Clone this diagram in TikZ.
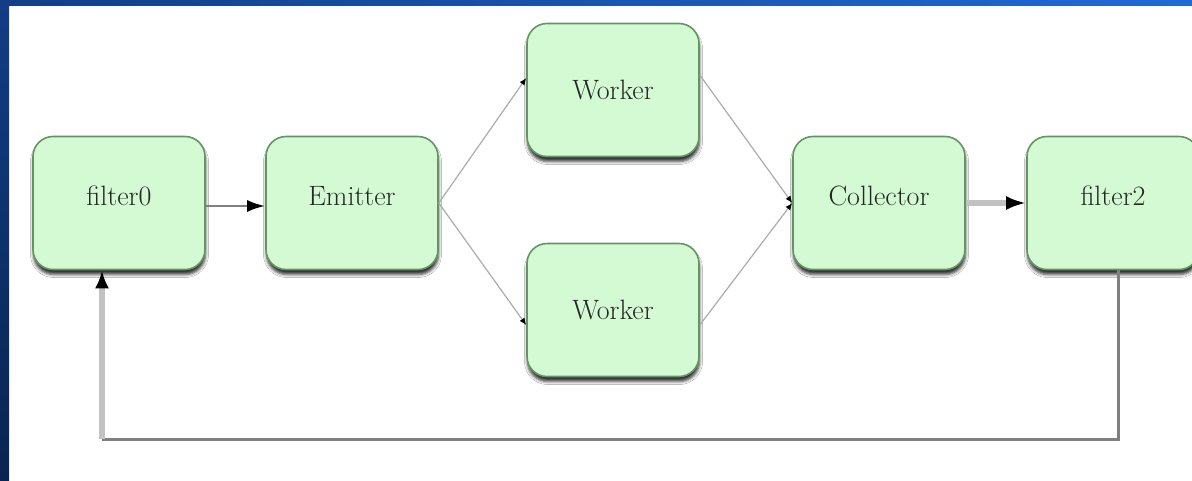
\documentclass[tikz,border=0pt]{standalone}
\usetikzlibrary{arrows.meta,shadows.blur,calc}
\definecolor{nodefill}{RGB}{212,250,212}
\definecolor{nodeborder}{RGB}{100,148,100}
\definecolor{topbarL}{RGB}{18,62,134}
\definecolor{topbarR}{RGB}{33,106,212}
\definecolor{leftbarB}{RGB}{9,36,80}
\definecolor{darkline}{RGB}{128,128,128}
\definecolor{lightline}{RGB}{194,194,194}
\definecolor{thinline}{RGB}{172,172,172}
\begin{document}
\begin{tikzpicture}[x=1pt,y=-1pt,
  box/.style={draw=nodeborder, line width=1.6pt, fill=nodefill,
    rounded corners=20pt, minimum width=172pt, minimum height=133pt,
    inner sep=0pt, font=\fontsize{28}{32}\selectfont, text=black!85,
    text depth=14pt,
    blur shadow={shadow xshift=0.5pt, shadow yshift=-5pt,
      shadow blur radius=3pt, shadow opacity=80}},
  wbox/.style={box, text depth=0pt},
  midline/.style={draw=darkline, line width=2.5pt,
    -{Latex[length=18pt,width=12pt,color=black]}},
  thinarrow/.style={draw=thinline, line width=1.2pt,
    -{Latex[length=7pt,width=6pt,color=black]}},
  thickarrow/.style={draw=lightline, line width=6pt,
    -{Latex[length=20pt,width=14pt,color=black]}},
  backline/.style={draw=darkline, line width=3pt},
  ]
\useasboundingbox (0,0) rectangle (1192,480);
\fill[white] (0,0) rectangle (1192,480);
\shade[left color=topbarL, right color=topbarR] (0,0) rectangle (1192,5);
\shade[top color=topbarL, bottom color=leftbarB] (0,0) rectangle (9,480);

\node[box]  (F0) at (119,203)  {filter0};
\node[box]  (E)  at (352,203)  {Emitter};
\node[wbox] (W1) at (613,90)   {Worker};
\node[wbox] (W2) at (613,310)  {Worker};
\node[box]  (C)  at (879,203)  {Collector};
\node[box]  (F2) at (1113,203) {filter2};

\draw[midline] ([yshift=-3pt]F0.east) -- ([yshift=-3pt]E.west);
\draw[thinarrow] (E.east) -- ([yshift=12pt]W1.west);
\draw[thinarrow] (E.east) -- ([yshift=-15pt]W2.west);
\draw[thinarrow] ([yshift=15pt]W1.east) -- (C.west);
\draw[thinarrow] ([yshift=-15pt]W2.east) -- (C.west);
\draw[thickarrow] (C.east) -- (F2.west);

\coordinate (fbL) at (102,439);
\draw[backline] ([xshift=5pt]F2.south) |- (fbL);
\draw[draw=lightline, line width=6pt,
  -{Latex[length=18pt,width=14pt,color=black]}] (fbL) -- (fbL |- F0.south);
\end{tikzpicture}
\end{document}
